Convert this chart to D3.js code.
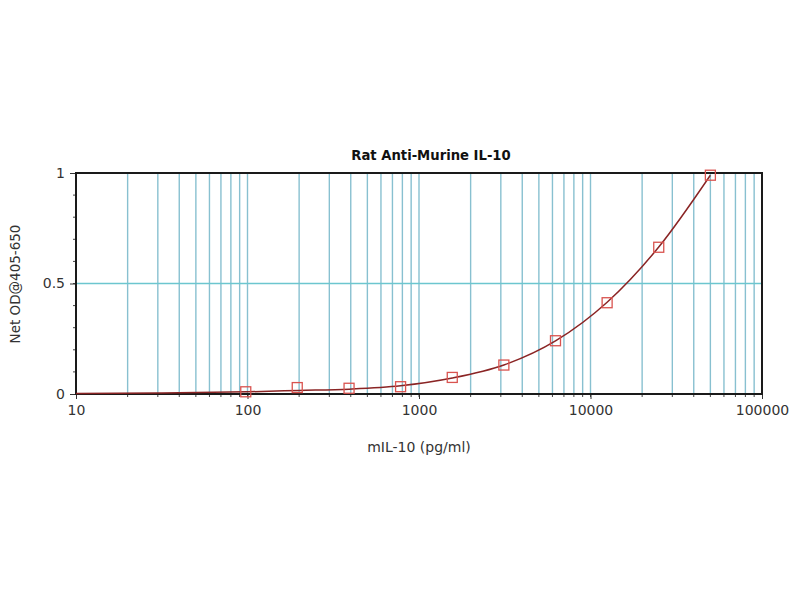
<!DOCTYPE html>
<html>
<head>
<meta charset="utf-8">
<script src="https://cdn.jsdelivr.net/npm/d3@7"></script>
<style>
  body { margin: 0; background: #fff; }
  text { font-family: "DejaVu Sans", "Liberation Sans", Arial, sans-serif; }
</style>
</head>
<body>
<svg width="800" height="600"></svg>
<script>
// standards (pg/ml) and measured OD
const conc = [97.7, 195, 391, 781, 1563, 3125, 6250, 12500, 25000, 50000];
const od = [0.010, 0.029, 0.026, 0.033, 0.075, 0.131, 0.241, 0.413, 0.664, 0.990];

// fitted curve
const fitConc = [10, 30, 100, 200, 391, 781, 1563, 3125, 6250, 12500, 25000, 50000];
const fitOd = [0.002, 0.004, 0.010, 0.016, 0.022, 0.037, 0.072, 0.131, 0.240, 0.415, 0.665, 0.990];

const xTicks = [10, 100, 1000, 10000, 100000];
const yTicks = [0, 0.5, 1];

const margin = { left: 76, right: 38, top: 173, bottom: 206 };
const svg = d3.select('svg');
const width = +svg.attr('width');
const height = +svg.attr('height');
const innerWidth = width - margin.left - margin.right;
const innerHeight = height - margin.top - margin.bottom;

const xScale = d3.scaleLog().domain([10, 100000]).range([0, innerWidth]);
const yScale = d3.scaleLinear().domain([0, 1]).range([innerHeight, 0]);

const g = svg.append('g')
  .attr('transform', `translate(${margin.left}, ${margin.top})`);

// vertical grid at every 1..9 x decade
const gridX = xScale.ticks().filter(d => d > 10 && d < 100000);
g.selectAll('.vgrid')
  .data(gridX)
  .enter()
  .append('line')
  .attr('class', 'vgrid')
  .attr('x1', d => xScale(d))
  .attr('x2', d => xScale(d))
  .attr('y1', 0)
  .attr('y2', innerHeight)
  .attr('stroke', '#88c0d0')
  .attr('stroke-width', 1.4);

// horizontal grid at 0.5
g.append('line')
  .attr('x1', 0)
  .attr('x2', innerWidth)
  .attr('y1', yScale(0.5))
  .attr('y2', yScale(0.5))
  .attr('stroke', '#6cc6cf')
  .attr('stroke-width', 1.4);

// minor ticks (no labels)
g.selectAll('.xminor')
  .data(gridX)
  .enter()
  .append('line')
  .attr('class', 'xminor')
  .attr('x1', d => xScale(d))
  .attr('x2', d => xScale(d))
  .attr('y1', innerHeight)
  .attr('y2', innerHeight + 3)
  .attr('stroke', '#444');

g.selectAll('.yminor')
  .data(d3.range(1, 10).map(d => d / 10))
  .enter()
  .append('line')
  .attr('class', 'yminor')
  .attr('x1', -3)
  .attr('x2', 0)
  .attr('y1', d => yScale(d))
  .attr('y2', d => yScale(d))
  .attr('stroke', '#444');

// major axes
const xAxis = g.append('g')
  .attr('transform', `translate(0, ${innerHeight})`)
  .call(d3.axisBottom(xScale).tickValues(xTicks).tickSize(5).tickPadding(6).tickFormat(d3.format('d')));
xAxis.select('.domain').remove();
xAxis.selectAll('text').attr('font-size', 14).attr('fill', '#333');
xAxis.selectAll('line').attr('stroke', '#333');

const yAxis = g.append('g')
  .call(d3.axisLeft(yScale).tickValues(yTicks).tickSize(6).tickPadding(5).tickFormat(d3.format('')));
yAxis.select('.domain').remove();
yAxis.selectAll('text').attr('font-size', 14).attr('fill', '#333');
yAxis.selectAll('line').attr('stroke', '#333');

// frame
g.append('rect')
  .attr('width', innerWidth)
  .attr('height', innerHeight)
  .attr('fill', 'none')
  .attr('stroke', '#1a1a1a')
  .attr('stroke-width', 2);

// fitted curve
const line = d3.line()
  .x((d, i) => xScale(fitConc[i]))
  .y(d => yScale(d))
  .curve(d3.curveMonotoneX);

g.append('path')
  .datum(fitOd)
  .attr('d', line)
  .attr('fill', 'none')
  .attr('stroke', '#8a2424')
  .attr('stroke-width', 1.5);

// data markers
const s = 10;
g.selectAll('.pt')
  .data(conc)
  .enter()
  .append('rect')
  .attr('class', 'pt')
  .attr('x', d => xScale(d) - s / 2)
  .attr('y', (d, i) => yScale(od[i]) - s / 2)
  .attr('width', s)
  .attr('height', s)
  .attr('fill', 'none')
  .attr('stroke', '#d9534f')
  .attr('stroke-width', 1.3);

// title and labels
svg.append('text')
  .attr('x', 431)
  .attr('y', 160)
  .attr('text-anchor', 'middle')
  .attr('font-size', 13.2)
  .attr('font-weight', 'bold')
  .attr('fill', '#111')
  .text('Rat Anti-Murine IL-10');

svg.append('text')
  .attr('x', 419)
  .attr('y', 452)
  .attr('text-anchor', 'middle')
  .attr('font-size', 14)
  .attr('fill', '#333')
  .text('mIL-10 (pg/ml)');

svg.append('text')
  .attr('transform', 'translate(20, 284) rotate(-90)')
  .attr('text-anchor', 'middle')
  .attr('font-size', 13.5)
  .attr('fill', '#333')
  .text('Net OD@405-650');
</script>
</body>
</html>
